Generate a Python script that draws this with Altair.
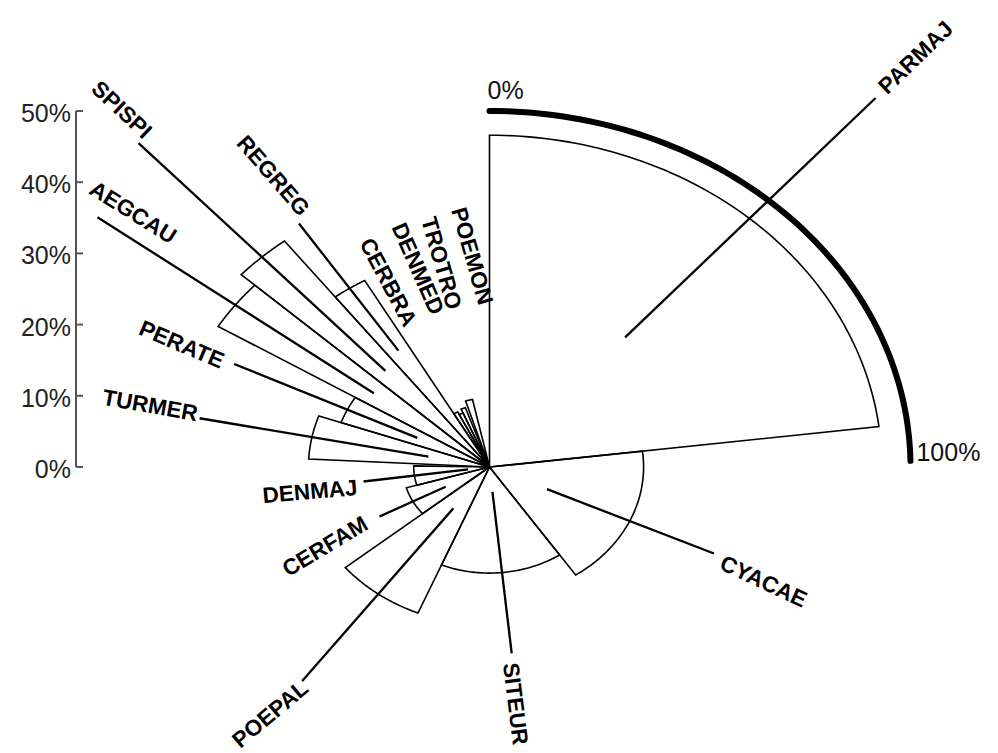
import altair as alt
import pandas as pd

# ---- data ---------------------------------------------------------------
species = ["PARMAJ", "CYACAE", "SITEUR", "POEPAL", "CERFAM", "DENMAJ",
           "TURMER", "PERATE", "AEGCAU", "SPISPI", "REGREG",
           "CERBRA", "DENMED", "TROTRO", "POEMON"]
# angular extent of each sector, degrees clockwise from north
start_deg = [0.0, 83.0, 146.0, 202.5, 230.5, 253.5, 273.0, 289.5,
             301.5, 312.5, 322.5, 330.5, 334.0, 337.5, 343.0]
end_deg = [83.0, 146.0, 202.5, 230.5, 253.5, 271.0, 289.5, 301.5,
           312.5, 322.5, 330.5, 334.0, 337.5, 341.0, 348.0]
# sector length, percent (radial axis)
radius_pct = [46.6, 18.3, 14.9, 22.2, 10.3, 9.0, 21.5, 18.7,
              37.8, 40.0, 30.1, 8.6, 8.2, 8.8, 9.7]

radial_ticks = [0, 10, 20, 30, 40, 50]
radial_tick_text = ["0%", "10%", "20%", "30%", "40%", "50%"]
arc_scale_text = ["0%", "100%"]

# ---- label layout ---------------------------------------------------------
# leader spokes run along each sector's mid-angle, from/to distance in %
leader_species = ["PARMAJ", "CYACAE", "SITEUR", "POEPAL", "CERFAM", "DENMAJ",
                  "TURMER", "PERATE", "AEGCAU", "SPISPI", "REGREG"]
leader_from = [24.3, 7.5, 3.5, 7.2, 5.9, 2.55, 7.4, 9.5, 17.2, 18.3, 19.6]
leader_to = [69.2, 29.3, 26.3, 37.4, 14.8, 15.1, 35.1, 33.6, 58.3, 61.7, 41.0]
# text centre (direction in degrees, distance in %) and text rotation
label_dir = [41.4, 116.4, 174.8, 216.8, 240.1, 260.6, 282.0, 295.1,
             310.1, 318.9, 327.8, 335.0, 342.9, 348.6, 355.9]
label_dist = [76.6, 36.3, 33.4, 43.4, 22.5, 21.6, 41.2, 40.4,
              55.4, 66.5, 48.3, 28.6, 29.1, 29.2, 29.7]
label_rot = [316, 25, 83, 320, 329, 355, 10, 23, 32, 43, 49, 62, 66, 74, 74]

# ---- geometry ---------------------------------------------------------------
W, H = 998, 753
CX, CY = 489.5, 467.0      # centre of the rose in pixels
PX_X, PX_Y = 8.42, 7.12    # pixels per percent, horizontally and vertically
SCALE_R = 50               # radius of the 0-100 % frequency arc
SCALE_SPAN = 89            # degrees swept by that arc
N = 72                     # points per arc
AXIS_PX = 76               # x position of the radial axis

xs = alt.Scale(domain=[-CX / PX_X, (W - CX) / PX_X], nice=False, zero=False)
ys = alt.Scale(domain=[-(H - CY) / PX_Y, CY / PX_Y], nice=False, zero=False)

FONT = "Liberation Sans"


def X(field):
    return alt.X(field, type="quantitative", scale=xs, axis=None)


def Y(field):
    return alt.Y(field, type="quantitative", scale=ys, axis=None)


wedges = pd.DataFrame({"species": species, "start": start_deg,
                       "end": end_deg, "r": radius_pct})

# sector outlines: centre -> arc -> centre
outline = wedges.merge(pd.DataFrame({"k": list(range(N + 3))}), how="cross")
sectors = alt.Chart(outline).transform_calculate(
    rr=f"(datum.k == 0 || datum.k == {N + 2}) ? 0 : datum.r",
    t=f"datum.start + (datum.end - datum.start) * clamp(datum.k - 1, 0, {N}) / {N}",
    x="datum.rr * sin(datum.t * PI / 180)",
    y="datum.rr * cos(datum.t * PI / 180)",
).mark_line(color="black", strokeWidth=1.6, strokeJoin="miter").encode(
    x=X("x"), y=Y("y"), detail="species:N", order="k:Q")

# leader spokes
leader_df = pd.DataFrame({"species": leader_species, "r0": leader_from,
                          "r1": leader_to}).merge(wedges, on="species")
leaders = alt.Chart(leader_df).transform_calculate(
    mid="(datum.start + datum.end) / 2 * PI / 180",
    x="datum.r0 * sin(datum.mid)",
    y="datum.r0 * cos(datum.mid)",
    x2="datum.r1 * sin(datum.mid)",
    y2="datum.r1 * cos(datum.mid)",
).mark_rule(color="black", strokeWidth=2.3).encode(
    x=X("x"), y=Y("y"), x2="x2:Q", y2="y2:Q")

# thick 0-100 % frequency arc
arc_df = pd.DataFrame({"k": list(range(N + 1))})
scale_arc = alt.Chart(arc_df).transform_calculate(
    t=f"datum.k / {N} * {SCALE_SPAN} * PI / 180",
    x=f"{SCALE_R} * sin(datum.t)",
    y=f"{SCALE_R} * cos(datum.t)",
).mark_line(color="black", strokeWidth=6, strokeCap="round").encode(
    x=X("x"), y=Y("y"), order="k:Q")

scale_text_df = pd.DataFrame({"text": arc_scale_text,
                              "deg": [0, SCALE_SPAN]})
scale_base = alt.Chart(scale_text_df).transform_calculate(
    x=f"{SCALE_R} * sin(datum.deg * PI / 180)",
    y=f"{SCALE_R} * cos(datum.deg * PI / 180)",
)
scale_lo = scale_base.transform_filter("datum.deg == 0").mark_text(
    font=FONT, fontSize=25, color="#111", align="left", baseline="middle",
    dx=-2, dy=-20).encode(x=X("x"), y=Y("y"), text="text:N")
scale_hi = scale_base.transform_filter("datum.deg > 0").mark_text(
    font=FONT, fontSize=25, color="#111", align="left", baseline="middle",
    dx=6, dy=-8).encode(x=X("x"), y=Y("y"), text="text:N")

# radial axis: line, inward ticks and labels
tick_df = pd.DataFrame({"v": radial_ticks, "text": radial_tick_text})
axis_line = alt.Chart(tick_df).mark_rule(color="#555", strokeWidth=2).encode(
    x=alt.value(AXIS_PX), y=alt.Y("min(v):Q", scale=ys, axis=None),
    y2="max(v):Q")
axis_ticks = alt.Chart(tick_df).mark_rule(color="#555", strokeWidth=2).encode(
    x=alt.value(AXIS_PX), x2=alt.value(AXIS_PX + 7), y=Y("v"))
axis_labels = alt.Chart(tick_df).mark_text(
    font=FONT, fontSize=25, color="#222", align="right", baseline="middle",
    dx=-5, dy=3).encode(x=alt.value(AXIS_PX), y=Y("v"), text="text:N")

# species labels
label_df = pd.DataFrame({"species": species, "dir": label_dir,
                         "dist": label_dist, "rot": label_rot})
labels = alt.Chart(label_df).transform_calculate(
    x="datum.dist * sin(datum.dir * PI / 180)",
    y="datum.dist * cos(datum.dir * PI / 180)",
).mark_text(font=FONT, fontSize=22.5, fontWeight="bold", color="black",
            align="center", baseline="middle").encode(
    x=X("x"), y=Y("y"), text="species:N",
    angle=alt.Angle("rot:Q", scale=None))

chart = alt.layer(
    sectors, leaders, scale_arc, axis_line, axis_ticks, axis_labels,
    labels, scale_lo, scale_hi,
).properties(
    width=W, height=H, padding=0, autosize=alt.AutoSizeParams(type="none"),
    background="white",
).configure_view(stroke=None)

chart.save("out.html", embed_options={"renderer": "svg", "actions": False})
